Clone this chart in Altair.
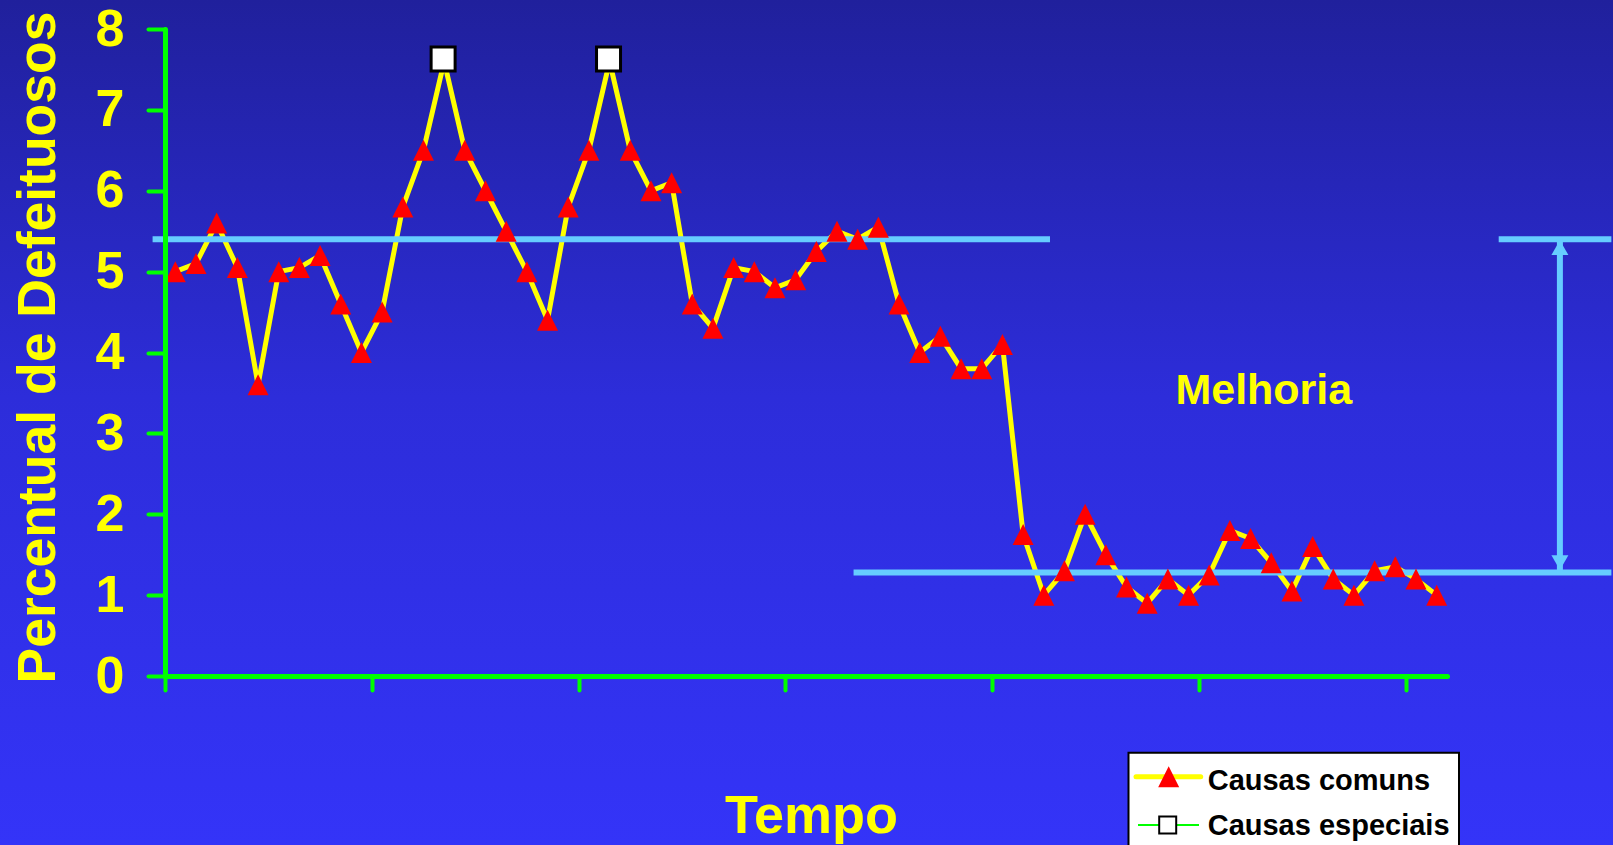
import altair as alt
import pandas as pd

# ---------------- data ----------------
comuns = [5.0, 5.1, 5.6, 5.05, 3.6, 5.0, 5.05, 5.2, 4.6, 4.0,
          4.5, 5.8, 6.5, 7.6, 6.5, 6.0, 5.5, 5.0, 4.4, 5.8,
          6.5, 7.6, 6.5, 6.0, 6.1, 4.6, 4.3, 5.05, 5.0, 4.8,
          4.9, 5.25, 5.5, 5.4, 5.55, 4.6, 4.0, 4.2, 3.8, 3.8,
          4.1, 1.75, 1.0, 1.3, 2.0, 1.5, 1.1, 0.9, 1.2, 1.0,
          1.25, 1.8, 1.7, 1.4, 1.05, 1.6, 1.2, 1.0, 1.3, 1.35,
          1.2, 1.0]
periodos = [i + 0.5 for i in range(len(comuns))]

especiais_x = [13.45, 21.45]
especiais_y = [7.63, 7.63]

x_ticks = [0, 10, 20, 30, 40, 50, 60]
y_ticks = [0, 1, 2, 3, 4, 5, 6, 7, 8]

# reference levels (before / after improvement)
ref_x = [-0.6, 64.5, 33.3]
ref_x2 = [42.8, 69.95, 69.95]
ref_y = [5.40, 5.40, 1.28]

seta_x = [67.46]
seta_y = [5.40]
seta_y2 = [1.28]
ponta_x = [67.46, 67.46]
ponta_y = [5.296, 1.402]
ponta_forma = ["triangle-up", "triangle-down"]

anota_x = [53.14]
anota_y = [3.36]
anota_txt = ["Melhoria"]

legenda_rotulos = ["Causas comuns", "Causas especiais"]

# ---------------- style ----------------
FONT = "Liberation Sans"
YEL = "#FFFF00"
GREEN = "#00FF00"
BLUE = "#66CCFF"
RED = "#FF0000"

W, H = 1282, 647
PL, PT = 165, 29
PR = 1613 - PL - W
PB = 845 - PT - H

xs = alt.Scale(domain=[0, 62], nice=False, zero=False)
ys = alt.Scale(domain=[0, 8], nice=False, zero=False)

xaxis = alt.Axis(values=x_ticks, labels=False, ticks=True, tickSize=14,
                 tickColor=GREEN, tickWidth=4, tickCap="round",
                 domainColor=GREEN, domainWidth=5, domainCap="round",
                 grid=False, zindex=1,
                 title="Tempo", titleColor=YEL, titleFont=FONT,
                 titleFontSize=54, titleFontWeight="bold",
                 titleX=646, titleY=156, titleAlign="center",
                 titleBaseline="alphabetic")
yaxis = alt.Axis(values=y_ticks, tickSize=17, tickColor=GREEN, tickWidth=4,
                 tickCap="round", domainColor=GREEN, domainWidth=5,
                 domainCap="round", grid=False, zindex=1,
                 labelColor=YEL, labelFont=FONT, labelFontSize=52,
                 labelFontWeight="bold", labelPadding=24,
                 title="Percentual de Defeituosos", titleColor=YEL,
                 titleFont=FONT, titleFontSize=53.5, titleFontWeight="bold",
                 titleAngle=270, titleX=-110.6, titleY=318,
                 titleAlign="center", titleBaseline="alphabetic")


def X(field="x"):
    return alt.X(f"{field}:Q", scale=xs, axis=xaxis)


def Y(field="y"):
    return alt.Y(f"{field}:Q", scale=ys, axis=yaxis)


# ---------------- layers ----------------
one = pd.DataFrame({"a": [0]})

bg = alt.Chart(one).mark_rect(
    color=alt.Gradient(gradient="linear",
                       stops=[alt.GradientStop(color="#20209C", offset=0),
                              alt.GradientStop(color="#2D2DDA", offset=0.47),
                              alt.GradientStop(color="#3434F8", offset=1)],
                       x1=0, x2=0, y1=0, y2=1)
).encode(x=alt.value(-PL), x2=alt.value(W + PR),
         y=alt.value(-PT), y2=alt.value(H + PB))

df = pd.DataFrame({"x": periodos, "y": comuns})
line = alt.Chart(df).mark_line(color=YEL, strokeWidth=5).encode(x=X(), y=Y())

refs = pd.DataFrame({"x": ref_x, "x2": ref_x2, "y": ref_y})
rules = alt.Chart(refs).mark_rule(color=BLUE, strokeWidth=6).encode(
    x=X(), x2="x2:Q", y=Y())

seta = pd.DataFrame({"x": seta_x, "y": seta_y, "y2": seta_y2})
shaft = alt.Chart(seta).mark_rule(color=BLUE, strokeWidth=6).encode(
    x=X(), y=Y(), y2="y2:Q")

pontas = pd.DataFrame({"x": ponta_x, "y": ponta_y, "forma": ponta_forma})
heads = alt.Chart(pontas).mark_point(filled=True, color=BLUE, size=289,
                                     opacity=1).encode(
    x=X(), y=Y(), shape=alt.Shape("forma:N", scale=None))

tri = alt.Chart(df).mark_point(shape="M0,-1L1,1L-1,1Z", filled=True,
                               color=RED, size=441, opacity=1).encode(
    x=X(), y=Y())

esp = pd.DataFrame({"x": especiais_x, "y": especiais_y})
sq = alt.Chart(esp).mark_point(shape="square", filled=True, fill="white",
                               stroke="black", strokeWidth=3, size=576,
                               opacity=1).encode(x=X(), y=Y())

anota = pd.DataFrame({"x": anota_x, "y": anota_y, "t": anota_txt})
txt = alt.Chart(anota).mark_text(font=FONT, fontSize=43, fontWeight="bold",
                                 color=YEL, align="center",
                                 baseline="alphabetic").encode(
    x=X(), y=Y(), text="t:N")

# ---------------- legend (drawn) ----------------
leg_box = alt.Chart(one).mark_rect(fill="white", stroke="black",
                                   strokeWidth=2).encode(
    x=alt.value(963.5), x2=alt.value(1294),
    y=alt.value(723.7), y2=alt.value(840))
leg_l1 = alt.Chart(one).mark_rule(color=YEL, strokeWidth=5,
                                  strokeCap="round").encode(
    x=alt.value(971), x2=alt.value(1035.7), y=alt.value(747.7))
leg_t1 = alt.Chart(one).mark_point(shape="M0,-1L1,1L-1,1Z", filled=True,
                                   color=RED, size=441, opacity=1).encode(
    x=alt.value(1003.7), y=alt.value(747.7))
leg_l2 = alt.Chart(one).mark_rule(color=GREEN, strokeWidth=2).encode(
    x=alt.value(973), x2=alt.value(1034), y=alt.value(796))
leg_s2 = alt.Chart(one).mark_point(shape="square", filled=True, fill="white",
                                   stroke="black", strokeWidth=2, size=289,
                                   opacity=1).encode(
    x=alt.value(1002.7), y=alt.value(796))
leg_txt1 = alt.Chart(one).mark_text(font=FONT, fontSize=29, fontWeight="bold",
                                    color="black", align="left",
                                    baseline="alphabetic").encode(
    x=alt.value(1042.7), y=alt.value(761), text=alt.value(legenda_rotulos[0]))
leg_txt2 = alt.Chart(one).mark_text(font=FONT, fontSize=29, fontWeight="bold",
                                    color="black", align="left",
                                    baseline="alphabetic").encode(
    x=alt.value(1042.7), y=alt.value(806), text=alt.value(legenda_rotulos[1]))

chart = alt.layer(
    bg, line, rules, shaft, tri, sq, heads, txt,
    leg_box, leg_l1, leg_t1, leg_l2, leg_s2, leg_txt1, leg_txt2
).properties(
    width=W, height=H,
    padding={"left": PL, "top": PT, "right": PR, "bottom": PB},
    autosize=alt.AutoSizeParams(type="none"),
    background="#2A2AD0"
).configure_view(strokeWidth=0)

chart.save("out.html", embed_options={"renderer": "svg", "actions": False})
